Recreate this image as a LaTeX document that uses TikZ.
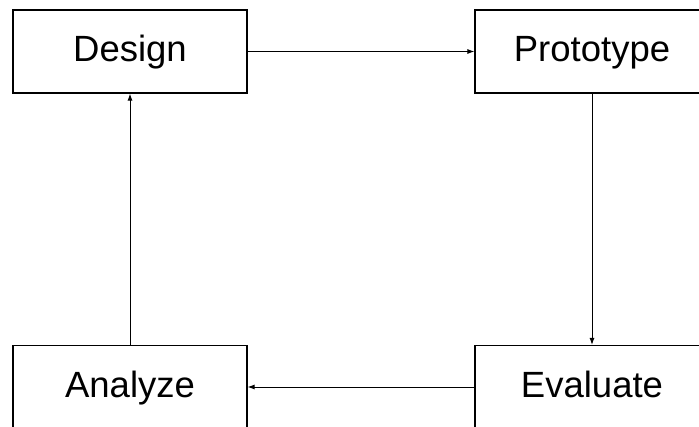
\documentclass[tikz,border=0pt]{standalone}
\usepackage{fontspec}
\setmainfont{Liberation Sans}
\usetikzlibrary{arrows.meta}

\begin{document}
\begin{tikzpicture}[x=1pt, y=1pt,
    stage/.style={draw, line width=1.2pt, minimum width=234pt, minimum height=83pt, inner sep=0pt, text height=27pt, text depth=6pt, font=\fontsize{36.5}{40}\selectfont},
    flow/.style={line width=0.9pt, -{Latex[length=7pt, width=5pt]}}]
    \useasboundingbox (0,0) rectangle (699,426);
    \clip (0,0) rectangle (699,426);

    % Design
    \node[stage] (design) at (130,374.5) {Design};

    % Prototype
    \node[stage] (prototype) at (592,374.5) {Prototype};

    % Evaluate
    \node[stage] (evaluate) at (592,39) {Evaluate};

    % Analyze
    \node[stage] (analyze) at (130,39) {Analyze};

    % cycle
    \draw[flow] (design) -- (prototype);
    \draw[flow] (prototype) -- (evaluate);
    \draw[flow] (evaluate) -- (analyze);
    \draw[flow] (analyze) -- (design);
\end{tikzpicture}
\end{document}
